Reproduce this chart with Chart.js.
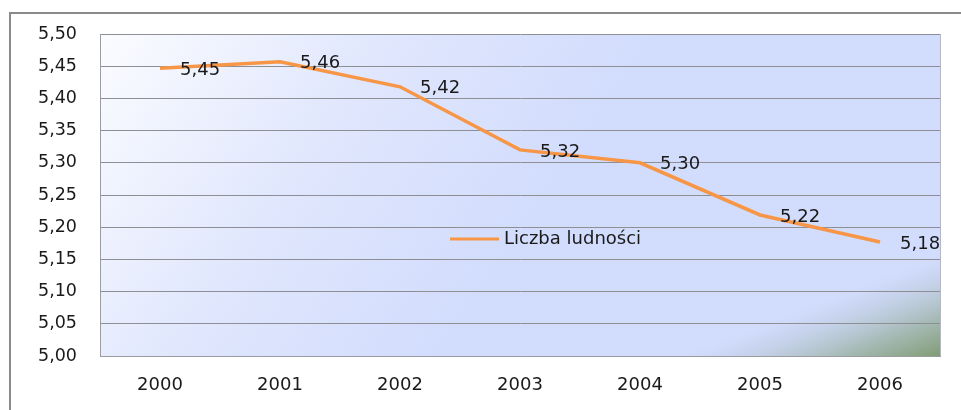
<!DOCTYPE html>
<html>
<head>
<meta charset="utf-8">
<script src="https://cdn.jsdelivr.net/npm/chart.js@4.4.1/dist/chart.umd.min.js"></script>
<style>
  html, body { margin: 0; padding: 0; background: #fff; overflow: hidden; }
  #wrap { width: 961px; height: 410px; }
</style>
</head>
<body>
<div id="wrap"><canvas id="lineChart" width="961" height="410"></canvas></div>
<script>
const years = ['2000', '2001', '2002', '2003', '2004', '2005', '2006'];
const population = [5.447, 5.457, 5.418, 5.320, 5.300, 5.219, 5.177];
const yTicks = [5.00, 5.05, 5.10, 5.15, 5.20, 5.25, 5.30, 5.35, 5.40, 5.45, 5.50];
const seriesName = 'Liczba ludności';

const fmt = v => v.toFixed(2).replace('.', ',');
const FONT = '"DejaVu Sans", sans-serif';

// gradient background, outer frame, plot border
const backdrop = {
  id: 'backdrop',
  beforeDraw(chart) {
    const { ctx, chartArea: a } = chart;
    ctx.save();
    // outer frame
    ctx.strokeStyle = '#8a8a8a';
    ctx.lineWidth = 2;
    ctx.beginPath();
    ctx.moveTo(10, chart.height);
    ctx.lineTo(10, 13);
    ctx.lineTo(chart.width, 13);
    ctx.stroke();

    const g = ctx.createLinearGradient(a.left, a.top, a.left + 380, a.top + 260);
    g.addColorStop(0, '#fbfcff');
    g.addColorStop(0.55, '#dfe6fd');
    g.addColorStop(1, '#d2dcfc');
    ctx.fillStyle = g;
    ctx.fillRect(a.left, a.top, a.right - a.left, a.bottom - a.top);

    // greenish corner bottom-right
    const cx = a.right, cy = a.bottom;
    const g2 = ctx.createLinearGradient(cx - 36, cy - 92, cx, cy);
    g2.addColorStop(0, 'rgba(210,220,252,0)');
    g2.addColorStop(0.2, 'rgba(195,208,232,0.5)');
    g2.addColorStop(0.6, 'rgba(165,185,180,0.9)');
    g2.addColorStop(1, 'rgba(128,156,116,1)');
    ctx.fillStyle = g2;
    ctx.fillRect(a.left, a.top, a.right - a.left, a.bottom - a.top);
    ctx.restore();
  },
  afterDatasetsDraw(chart) {
    const { ctx, chartArea: a } = chart;
    ctx.save();
    ctx.strokeStyle = '#b5b8c0';
    ctx.lineWidth = 1;
    ctx.beginPath();
    ctx.moveTo(a.right + 0.5, a.top);
    ctx.lineTo(a.right + 0.5, a.bottom);
    ctx.stroke();

    // value labels right of each point
    const meta = chart.getDatasetMeta(0);
    ctx.font = '18px ' + FONT;
    ctx.fillStyle = '#1a1a1a';
    ctx.textBaseline = 'middle';
    ctx.textAlign = 'left';
    meta.data.forEach((pt, i) => {
      ctx.fillText(fmt(population[i]), pt.x + 20, pt.y + 2);
    });

    // legend inside plot
    const lx = a.left + 350, ly = a.top + 205;
    ctx.strokeStyle = '#f79646';
    ctx.lineWidth = 3;
    ctx.beginPath();
    ctx.moveTo(lx, ly);
    ctx.lineTo(lx + 49, ly);
    ctx.stroke();
    ctx.font = '18px ' + FONT;
    ctx.fillStyle = '#1a1a1a';
    ctx.fillText(seriesName, lx + 54, ly);
    ctx.restore();
  }
};

new Chart(document.getElementById('lineChart'), {
  type: 'line',
  data: {
    labels: years,
    datasets: [{
      label: seriesName,
      data: population,
      borderColor: '#f79646',
      borderWidth: 3.5,
      pointRadius: 0,
      tension: 0,
      fill: false
    }]
  },
  options: {
    responsive: false,
    animation: false,
    layout: { padding: { left: 0, right: 21, top: 34, bottom: 0 } },
    plugins: {
      legend: { display: false },
      tooltip: { enabled: false }
    },
    scales: {
      x: {
        offset: true,
        grid: { display: false, drawTicks: false },
        border: { display: true, color: '#9a9ca4', width: 1 },
        ticks: { color: '#1a1a1a', font: { family: FONT, size: 18 }, padding: 19 },
        afterFit(s) { s.height = 54; }
      },
      y: {
        min: 5.0,
        max: 5.5,
        afterBuildTicks(s) { s.ticks = yTicks.map(v => ({ value: v })); },
        grid: { color: '#8e8f94', lineWidth: 1, drawTicks: false },
        border: { display: true, color: '#9a9ca4', width: 1 },
        ticks: {
          color: '#1a1a1a',
          font: { family: FONT, size: 17.5 },
          padding: 23,
          callback: v => fmt(v)
        },
        afterFit(s) { s.width = 100; }
      }
    }
  },
  plugins: [backdrop]
});
</script>
</body>
</html>
